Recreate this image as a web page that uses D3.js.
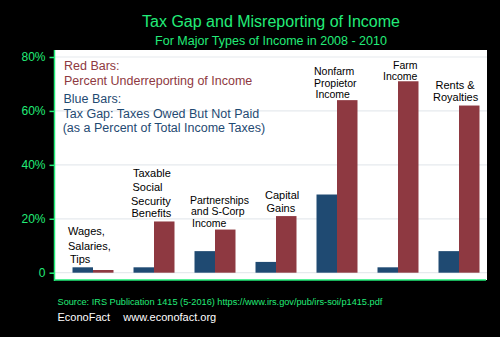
<!DOCTYPE html>
<html>
<head>
<meta charset="utf-8">
<script src="https://cdn.jsdelivr.net/npm/d3@7"></script>
<style>
html,body{margin:0;padding:0;background:#000;}
svg{display:block;}
text{font-family:"Liberation Sans",Arial,sans-serif;}
</style>
</head>
<body>
<svg id="chart" width="500" height="337"></svg>
<script>
const categories = ["Wages", "Social Security", "Partnerships", "Capital Gains", "Nonfarm", "Farm", "Rents"];
const taxGap = [2, 2, 8, 4, 29, 2, 8];           // blue bars
const underreporting = [1, 19, 16, 21, 64, 71, 62]; // red bars
const yTicks = [0, 20, 40, 60, 80];
const yTickLabels = ["0", "20%", "40%", "60%", "80%"];
const categoryLabels = [
  ["Wages,", "Salaries,", "Tips"],
  ["Taxable", "Social", "Security", "Benefits"],
  ["Partnerships", "and S-Corp", "Income"],
  ["Capital", "Gains"],
  ["Nonfarm", "Propietor", "Income"],
  ["Farm", "Income"],
  ["Rents &", "Royalties"]
];
const title = "Tax Gap and Misreporting of Income";
const subtitle = "For Major Types of Income in 2008 - 2010";
const legendRed = ["Red Bars:", "Percent Underreporting of Income"];
const legendBlue = ["Blue Bars:", "Tax Gap: Taxes Owed But Not Paid", "(as a Percent of Total Income Taxes)"];
const source = "Source: IRS Publication 1415 (5-2016) https://www.irs.gov/pub/irs-soi/p1415.pdf";

const GREEN = "#22ec78", BLUE = "#1f4a72", RED = "#8e3941";
const svg = d3.select("#chart");

// plot area
const plot = {left: 55, right: 487, top: 50, bottom: 280};
svg.append("rect").attr("x", plot.left).attr("y", plot.top)
  .attr("width", plot.right - plot.left).attr("height", plot.bottom - plot.top).attr("fill", "#fff");

const y = d3.scaleLinear().domain([0, 80]).range([272.7, 57]);
const x = d3.scaleBand().domain(categories).range([62.5, 489.5]).paddingInner(0.328).paddingOuter(0.164);
const xs = d3.scaleBand().domain(["gap", "under"]).range([0, x.bandwidth()]);

// gridlines
svg.append("g").selectAll("line").data(yTicks).join("line")
  .attr("x1", plot.left).attr("x2", plot.right)
  .attr("y1", d => y(d)).attr("y2", d => y(d))
  .attr("stroke", "#e6eaee").attr("stroke-width", 1.2);

// y axis
const yAxis = d3.axisLeft(y).tickValues(yTicks).tickFormat((d, i) => yTickLabels[i]).tickSize(5).tickPadding(4);
const ya = svg.append("g").attr("transform", `translate(${plot.left - 0.5},0)`).call(yAxis);
ya.select(".domain").remove();
ya.selectAll(".tick line").attr("stroke", GREEN).attr("stroke-width", 1.5);
ya.selectAll(".tick text").attr("fill", GREEN).attr("font-size", 12).attr("font-family", "Liberation Sans, Arial, sans-serif");

// axis lines
svg.append("line").attr("x1", plot.left - 0.5).attr("x2", plot.left - 0.5).attr("y1", plot.top).attr("y2", plot.bottom + 1)
  .attr("stroke", GREEN).attr("stroke-width", 1.5);
svg.append("line").attr("x1", plot.left - 0.5).attr("x2", plot.right - 1).attr("y1", plot.bottom).attr("y2", plot.bottom)
  .attr("stroke", GREEN).attr("stroke-width", 1.5);

// bars
const groups = svg.append("g").selectAll("g").data(categories).join("g")
  .attr("transform", d => `translate(${x(d)},0)`);
groups.append("rect")
  .attr("x", xs("gap")).attr("width", xs.bandwidth())
  .attr("y", (d, i) => y(taxGap[i])).attr("height", (d, i) => y(0) - y(taxGap[i]))
  .attr("fill", BLUE);
groups.append("rect")
  .attr("x", xs("under")).attr("width", xs.bandwidth())
  .attr("y", (d, i) => y(underreporting[i])).attr("height", (d, i) => y(0) - y(underreporting[i]))
  .attr("fill", RED);

// category labels (annotation positions)
const labelPos = [
  {x: [68, 68, 70], y: [235, 250, 263], fs: 11},
  {x: [133, 132.5, 131, 131.5], y: [177, 191, 204.5, 217], fs: 11},
  {x: [190, 191, 192], y: [203.5, 215, 226.5], fs: 10.5},
  {x: [265, 266.5], y: [199, 212], fs: 11},
  {x: [314, 314, 315.5], y: [75, 86.5, 98], fs: 10.5},
  {x: [393, 383], y: [68.5, 80], fs: 10.5},
  {x: [435.5, 433], y: [89, 101], fs: 11}
];
categoryLabels.forEach((lines, i) => {
  svg.append("g").selectAll("text").data(lines).join("text")
    .attr("x", (d, j) => labelPos[i].x[j]).attr("y", (d, j) => labelPos[i].y[j])
    .attr("font-size", labelPos[i].fs).attr("fill", "#000").text(d => d);
});

// legend text
svg.append("g").selectAll("text").data(legendRed).join("text")
  .attr("x", 64).attr("y", (d, i) => 70 + i * 15)
  .attr("font-size", 12.5).attr("fill", RED).text(d => d);
svg.append("g").selectAll("text").data(legendBlue).join("text")
  .attr("x", (d, i) => i === 2 ? 62.7 : 63.5).attr("y", (d, i) => 103 + i * 14.5)
  .attr("font-size", 12.5).attr("fill", BLUE).text(d => d);

// titles
svg.append("text").attr("x", 271).attr("y", 27).attr("text-anchor", "middle")
  .attr("font-size", 16).attr("fill", GREEN).text(title);
svg.append("text").attr("x", 271).attr("y", 45).attr("text-anchor", "middle")
  .attr("font-size", 12.5).attr("fill", GREEN).text(subtitle);

// footer
svg.append("text").attr("x", 57.5).attr("y", 304.5).attr("font-size", 9.2).attr("fill", GREEN).text(source);
svg.append("text").attr("x", 57.5).attr("y", 321).attr("font-size", 11).attr("fill", "#fff").text("EconoFact");
svg.append("text").attr("x", 123.3).attr("y", 321).attr("font-size", 11).attr("fill", "#fff").text("www.econofact.org");
</script>
</body>
</html>
